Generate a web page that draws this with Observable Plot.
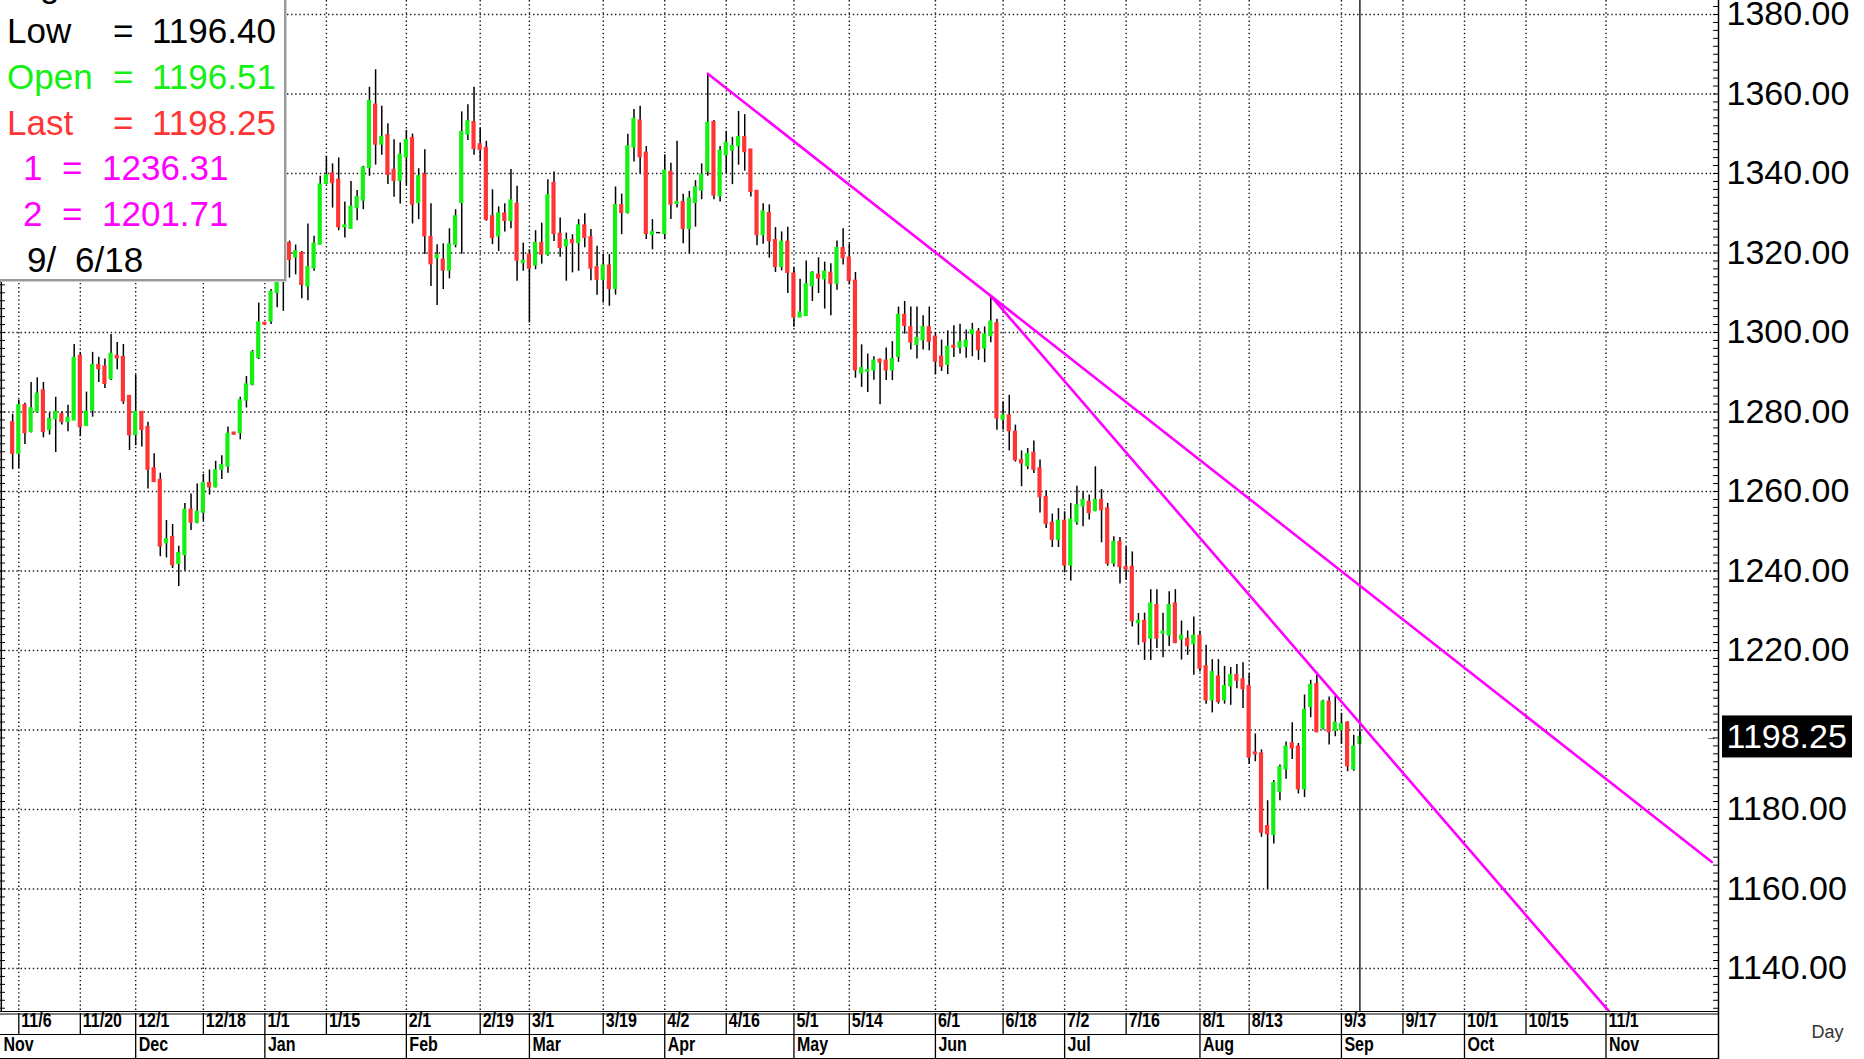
<!DOCTYPE html>
<html>
<head>
<meta charset="utf-8">
<script src="https://cdn.jsdelivr.net/npm/d3@7"></script>
<script src="https://cdn.jsdelivr.net/npm/@observablehq/plot@0.6"></script>
<style>
  html, body { margin: 0; padding: 0; background: #fff; overflow: hidden; }
  #wrap { position: relative; width: 1864px; height: 1059px; overflow: hidden; }
  #legendBox { position: absolute; left: 0; top: -50px; width: 284px; height: 329px; background: #fff;
    border-right: 2px solid #9a9a9a; border-bottom: 2px solid #9a9a9a; box-shadow: 1px 1px 0 #cfcfcf; }
  .lg { position: absolute; font-family: "Liberation Sans", Arial, sans-serif; font-size: 35px; line-height: 35px; white-space: pre; }
</style>
</head>
<body>
<div id="wrap"><div id="chart"></div></div>
<script>
// ---------- data (daily gold futures candles, weekday index: 0 = 2017-11-06) ----------
const firstIndex = -1; // first candle: 2017-11-03
const opens = [
1277.4,1269.5,1281.7,1275.0,1280.0,1285.4,1275.5,1278.2,1279.4,1277.5,1277.9,1294.1,1276.5,1280.4,1291.8,1291.4,1288.3,1294.1,1293.8,1284.0,
1274.2,1280.0,1276.2,1265.8,1262.9,1247.0,1248.5,1241.8,1244.0,1255.4,1252.2,1254.7,1262.1,1261.1,1265.5,1266.3,1274.8,1274.7,1282.9,1286.9,
1293.6,1302.4,1302.8,1310.0,1313.0,1322.5,1318.9,1320.0,1311.6,1316.2,1322.1,1337.4,1340.0,1338.4,1326.5,1326.1,1331.3,1333.2,1341.4,1357.3,
1347.3,1349.6,1340.9,1338.2,1344.1,1348.9,1332.6,1339.7,1324.0,1318.7,1318.3,1315.6,1322.1,1332.6,1349.8,1352.9,1347.3,1346.4,1329.2,1324.2,
1329.9,1328.1,1332.4,1317.5,1319.6,1316.9,1322.5,1319.6,1337.6,1324.8,1321.7,1323.2,1322.5,1326.9,1323.9,1316.4,1313.3,1316.8,1311.0,1332.0,
1330.1,1346.6,1353.3,1345.2,1324.6,1325.0,1324.8,1340.4,1332.4,1332.8,1326.1,1332.6,1335.7,1340.5,1352.9,1334.3,1344.6,1345.8,1346.9,1349.1,
1346.0,1335.6,1324.5,1330.0,1323.2,1316.5,1322.8,1314.8,1303.8,1304.2,1311.7,1314.5,1313.4,1315.0,1312.3,1321.2,1318.8,1313.0,1289.7,1290.2,
1290.5,1293.1,1292.9,1290.5,1293.9,1304.4,1301.3,1296.9,1298.1,1301.3,1298.9,1293.9,1291.9,1296.6,1296.2,1296.4,1299.6,1300.2,1296.0,1299.1,
1302.3,1278.1,1279.1,1275.0,1267.9,1266.4,1269.7,1265.8,1258.6,1252.1,1247.9,1252.6,1241.4,1252.3,1256.3,1257.4,1255.1,1257.8,1255.7,1241.9,
1247.3,1241.0,1241.0,1226.9,1227.4,1223.0,1231.4,1224.3,1223.8,1231.8,1222.8,1222.9,1221.6,1223.7,1216.0,1207.5,1213.4,1207.5,1211.0,1213.8,
1212.7,1211.0,1194.3,1194.1,1175.8,1173.6,1184.5,1190.1,1196.6,1195.8,1185.1,1205.8,1211.5,1200.4,1207.1,1199.8,1200.0,1201.8,1190.1,1196.51
];
const highs = [
1279.4,1283.0,1282.2,1287.4,1288.6,1287.4,1279.7,1283.7,1280.0,1281.7,1297.0,1295.0,1285.0,1295.0,1293.8,1293.3,1299.5,1297.5,1297.0,1284.0,
1289.3,1280.0,1277.4,1269.5,1264.6,1252.7,1251.7,1246.2,1257.0,1259.4,1261.9,1264.3,1265.4,1267.6,1269.0,1276.2,1274.8,1283.7,1288.9,1295.5,
1307.4,1302.4,1310.8,1316.0,1323.0,1323.0,1322.0,1320.4,1327.3,1324.2,1339.3,1344.3,1342.4,1343.9,1332.8,1338.0,1335.7,1341.8,1361.7,1366.1,
1356.9,1352.5,1348.5,1347.7,1350.8,1349.9,1341.2,1346.0,1332.4,1322.1,1322.3,1326.1,1330.9,1355.5,1357.3,1361.7,1351.3,1348.1,1335.9,1331.6,
1332.4,1341.0,1336.8,1322.5,1320.8,1325.6,1327.5,1338.4,1340.4,1328.8,1325.0,1324.6,1328.4,1329.9,1325.9,1321.7,1319.6,1319.6,1336.6,1334.8,
1349.9,1356.1,1356.9,1346.8,1328.4,1325.0,1344.7,1342.6,1348.1,1334.8,1335.5,1338.2,1342.4,1365.1,1353.3,1346.8,1350.6,1349.1,1355.6,1354.8,
1346.0,1335.6,1332.4,1332.1,1326.4,1325.3,1326.5,1316.3,1313.4,1318.0,1315.3,1318.8,1317.7,1317.3,1323.0,1326.1,1322.3,1315.1,1296.9,1294.6,
1293.9,1293.3,1296.1,1297.7,1306.4,1307.8,1306.4,1306.4,1304.2,1306.4,1300.0,1298.1,1300.4,1301.7,1302.1,1300.6,1302.3,1301.0,1301.4,1309.2,
1303.3,1282.6,1284.2,1276.7,1270.2,1270.8,1272.7,1267.9,1260.2,1254.3,1255.7,1254.9,1257.0,1261.3,1259.9,1259.1,1266.2,1260.5,1257.0,1248.6,
1248.4,1246.1,1244.8,1229.3,1229.4,1235.3,1235.3,1229.4,1234.8,1235.3,1227.4,1224.9,1228.4,1224.9,1221.3,1217.7,1217.7,1216.0,1215.7,1216.5,
1216.9,1214.2,1199.0,1195.0,1182.2,1187.3,1191.2,1197.0,1201.8,1196.6,1208.8,1212.5,1213.8,1207.5,1208.3,1208.5,1204.2,1202.1,1198.7,1199.5
];
const lows = [
1265.5,1265.8,1271.8,1274.7,1279.7,1273.5,1274.2,1269.8,1276.7,1275.0,1277.9,1273.8,1276.5,1278.7,1287.4,1285.9,1287.9,1290.6,1281.9,1270.3,
1271.5,1271.2,1260.6,1262.3,1243.6,1243.3,1240.6,1236.1,1240.0,1250.2,1251.9,1252.5,1259.1,1260.9,1263.0,1264.6,1274.3,1273.0,1281.0,1286.6,
1293.2,1302.0,1302.0,1306.2,1305.3,1313.7,1314.5,1308.5,1308.0,1315.4,1322.1,1337.2,1331.3,1325.6,1323.8,1326.1,1328.1,1330.9,1339.3,1342.1,
1344.6,1337.2,1334.0,1332.3,1337.0,1327.3,1328.4,1319.6,1311.6,1306.8,1310.8,1313.5,1321.3,1319.7,1348.3,1344.6,1343.1,1328.0,1322.1,1320.4,
1325.3,1326.1,1312.9,1315.4,1302.4,1315.8,1317.2,1319.2,1322.9,1318.9,1312.9,1315.0,1315.4,1321.3,1313.0,1309.4,1307.4,1306.6,1309.4,1324.6,
1329.8,1342.9,1339.9,1323.4,1320.8,1325.0,1323.4,1328.4,1331.3,1322.3,1319.7,1326.5,1333.4,1339.3,1333.4,1332.8,1339.9,1337.2,1342.1,1340.6,
1334.1,1321.8,1322.2,1318.7,1315.1,1315.5,1309.8,1301.3,1303.8,1304.2,1307.8,1309.8,1305.9,1304.2,1310.6,1317.0,1312.0,1288.5,1286.2,1284.9,
1288.0,1281.8,1287.9,1287.9,1292.5,1299.6,1295.6,1293.3,1295.6,1295.4,1289.4,1290.2,1289.4,1293.7,1294.6,1293.5,1293.9,1293.0,1292.4,1297.4,
1275.4,1275.4,1270.2,1267.4,1261.2,1265.5,1264.5,1254.6,1250.7,1245.9,1245.9,1239.5,1237.5,1251.5,1251.1,1252.8,1254.9,1247.1,1241.2,1241.0,
1236.7,1237.7,1225.9,1221.3,1217.5,1217.5,1220.5,1218.2,1221.0,1221.7,1217.6,1218.8,1213.8,1214.6,1206.5,1204.3,1206.5,1206.5,1206.2,1210.4,
1205.4,1191.4,1192.0,1173.0,1159.9,1171.3,1182.2,1187.6,1192.6,1183.9,1183.0,1203.1,1199.3,1200.0,1196.2,1198.3,1196.4,1189.5,1189.6,1196.40
];
const closes = [
1269.5,1281.7,1274.7,1280.9,1284.6,1275.0,1278.2,1280.0,1277.5,1278.5,1293.6,1276.2,1280.0,1291.8,1290.8,1287.1,1294.6,1293.5,1282.7,1274.2,
1280.0,1275.5,1265.5,1262.4,1246.2,1248.0,1241.5,1244.5,1255.4,1252.2,1254.9,1262.1,1261.1,1265.3,1266.6,1274.5,1274.3,1282.9,1286.9,1295.0,
1302.5,1302.0,1310.2,1313.0,1321.0,1318.3,1320.4,1312.0,1316.4,1322.3,1337.2,1339.5,1337.6,1326.5,1326.9,1331.6,1334.0,1341.4,1358.2,1347.3,
1349.2,1339.7,1338.2,1344.7,1348.4,1332.2,1339.3,1324.2,1317.2,1319.4,1315.6,1322.1,1329.2,1350.4,1353.1,1346.2,1346.0,1328.4,1323.8,1329.9,
1328.1,1333.2,1318.1,1318.0,1316.1,1322.5,1319.6,1334.5,1324.8,1321.3,1323.2,1322.5,1326.9,1323.8,1316.1,1313.3,1316.8,1311.0,1332.0,1330.1,
1346.8,1353.7,1344.1,1324.8,1325.2,1325.0,1340.7,1332.2,1332.8,1326.1,1333.7,1336.5,1339.7,1352.7,1334.5,1345.7,1347.7,1346.9,1349.1,1345.4,
1335.4,1324.5,1330.4,1323.0,1316.5,1322.8,1315.0,1303.8,1305.0,1312.1,1315.0,1313.6,1315.3,1312.3,1321.2,1318.7,1313.0,1290.5,1291.0,1290.5,
1292.9,1292.5,1290.5,1293.3,1304.4,1301.7,1297.5,1298.6,1301.3,1297.7,1292.7,1291.4,1296.4,1296.2,1297.5,1297.9,1300.6,1295.6,1299.5,1302.7,
1278.4,1279.1,1275.2,1267.9,1267.1,1269.4,1265.5,1258.6,1251.9,1247.9,1252.6,1241.4,1252.9,1256.5,1257.8,1254.6,1257.8,1255.3,1241.9,1247.3,
1241.0,1240.4,1227.4,1227.4,1222.1,1231.8,1223.0,1224.7,1231.4,1221.9,1223.7,1221.1,1223.7,1215.5,1207.5,1214.5,1207.1,1211.0,1213.8,1212.4,
1210.3,1193.1,1193.9,1174.2,1173.8,1186.6,1190.6,1195.8,1195.4,1185.1,1205.0,1211.3,1199.5,1207.1,1199.5,1201.8,1201.4,1190.9,1195.8,1198.25
];

// trend lines (weekday index, price)
const trend1Index = [112, 275.2];
const trend1Value = [1365.1, 1166.8];
const trend2Index = [158, 258.5];
const trend2Value = [1309.2, 1129.2];

// bottom axis labels
const dateTickIndex  = [0, 10, 19, 30, 40, 50, 63, 75, 83, 95, 105, 115, 126, 135, 149, 160, 170, 180, 192, 200, 215, 225, 235, 245, 258];
const dateTickLabels = ["11/6","11/20","12/1","12/18","1/1","1/15","2/1","2/19","3/1","3/19","4/2","4/16","5/1","5/14","6/1","6/18","7/2","7/16","8/1","8/13","9/3","9/17","10/1","10/15","11/1"];
const monthIndex  = [-2.975, 19, 40, 63, 83, 105, 126, 149, 170, 192, 215, 235, 258];
const monthLabels = ["Nov","Dec","Jan","Feb","Mar","Apr","May","Jun","Jul","Aug","Sep","Oct","Nov"];

// price axis
const gridPrices  = [1140,1160,1180,1200,1220,1240,1260,1280,1300,1320,1340,1360,1380];
const priceLabels = [1140,1160,1180,1220,1240,1260,1280,1300,1320,1340,1360,1380];

// ---------- chart ----------
const xMin = -2.975, xMax = 276.29;
const yMin = 1129.18, yMax = 1383.52;
const GREEN = "#14f014", RED = "#ff3434", MAGENTA = "#ff00ff";
const LABEL_INK = "#010101"; // ink used for the condensed date/month labels
const sans = "'Liberation Sans', Arial, sans-serif";

const candles = opens.map((o, k) => ({i: firstIndex + k, o, h: highs[k], l: lows[k], c: closes[k]}));
const last = candles[candles.length - 1];
const trend1 = trend1Index.map((i, k) => ({i, v: trend1Value[k]}));
const trend2 = trend2Index.map((i, k) => ({i, v: trend2Value[k]}));
const dateTicks = dateTickIndex.map((i, k) => ({i, label: dateTickLabels[k]}));
const months = monthIndex.map((i, k) => ({i, label: monthLabels[k]}));
const minorTicks = d3.range(1130, 1384, 2);
const dotted = {stroke: "#1a1a1a", strokeWidth: 1.4, strokeDasharray: "1.4,2.7"};

const chart = Plot.plot({
  width: 1864, height: 1059,
  marginTop: 0, marginLeft: 0, marginRight: 146, marginBottom: 48,
  x: {domain: [xMin, xMax], axis: null},
  y: {domain: [yMin, yMax], axis: null},
  style: {fontFamily: sans, background: "#fff", color: "#000", overflow: "visible"},
  marks: [
    Plot.ruleY(gridPrices, dotted),
    Plot.ruleX(dateTickIndex, dotted),
    Plot.ruleY(minorTicks, {x1: xMin, x2: xMin + 0.8, stroke: "#000", strokeWidth: 1}),
    Plot.ruleY(minorTicks, {x1: xMax - 0.8, x2: xMax, stroke: "#000", strokeWidth: 1}),
    Plot.ruleX(candles, {x: "i", y1: "l", y2: "h", stroke: "#000", strokeWidth: 1.5}),
    Plot.rect(candles, {
      x1: d => d.i - 0.34, x2: d => d.i + 0.34, y1: "o", y2: "c",
      fill: d => d.c > d.o ? GREEN : d.c < d.o ? RED : "#000",
      insetTop: -0.7, insetBottom: -0.7
    }),
    Plot.ruleX([last.i], {stroke: "#000", strokeWidth: 1.3}),
    Plot.line(trend1, {x: "i", y: "v", stroke: MAGENTA, strokeWidth: 2.6, clip: true}),
    Plot.line(trend2, {x: "i", y: "v", stroke: MAGENTA, strokeWidth: 2.6, clip: true}),
    // frame & bottom rows
    Plot.ruleX([xMin], {stroke: "#000", strokeWidth: 1.5, dx: 0.8}),
    Plot.ruleX([xMax], {stroke: "#000", strokeWidth: 1.5, insetBottom: -48}),
    Plot.ruleY([yMin], {stroke: "#000", strokeWidth: 1}),
    Plot.ruleY([yMin], {stroke: "#000", strokeWidth: 1, dy: 2.5}),
    Plot.ruleY([yMin], {stroke: "#000", strokeWidth: 1, dy: 23}),
    Plot.ruleY([yMin], {stroke: "#000", strokeWidth: 1, dy: 47}),
    Plot.ruleX(dateTickIndex, {stroke: "#000", strokeWidth: 1.3, insetTop: 1013, insetBottom: -23}),
    Plot.ruleX(monthIndex.slice(1), {stroke: "#000", strokeWidth: 1.3, insetTop: 1034, insetBottom: -47}),
    Plot.text(dateTicks, {x: "i", text: "label", frameAnchor: "bottom", dy: 15, dx: 2.5, textAnchor: "start", fontSize: 20, fontWeight: "bold", fontFamily: sans, fill: LABEL_INK}),
    Plot.text(months, {x: "i", text: "label", frameAnchor: "bottom", dy: 39, dx: 3, textAnchor: "start", fontSize: 20, fontWeight: "bold", fontFamily: sans, fill: LABEL_INK}),
    Plot.axisY(priceLabels, {anchor: "right", tickSize: 0, tickPadding: 8, tickFormat: d3.format(".2f"), fontSize: 34, fontFamily: sans, label: null}),
    Plot.rect([last.c], {x1: xMax, x2: xMax, y1: d => d, y2: d => d, insetLeft: 4, insetRight: -134, insetTop: -21, insetBottom: -21, fill: "#000"}),
    Plot.text([last.c], {x: xMax, y: d => d, text: d => d3.format(".2f")(d), dx: 8, textAnchor: "start", fill: "#fff", fontSize: 34, fontFamily: sans}),
    Plot.text([last.c], {x: xMax, y: d => d, text: () => "→", dx: -7, fontSize: 11, fill: "#000"}),
    Plot.text(["Day"], {frameAnchor: "bottom-right", text: d => d, dx: 125, dy: 26, fontSize: 18, fill: "#333", fontFamily: sans})
  ]
});
// condense the bottom-axis labels horizontally (narrow chart font)
d3.select(chart).selectAll(`g[fill="${LABEL_INK}"] text`).each(function() {
  const t = this.getAttribute("transform") || "";
  this.setAttribute("transform", t + " scale(0.8,1)");
});
document.getElementById("chart").appendChild(chart);

// ---------- data window (overlay legend) ----------
const wrap = document.getElementById("wrap");
const box = document.createElement("div");
box.id = "legendBox";
wrap.appendChild(box);
const fmt = d3.format(".2f");
const legendRows = [
  {base: -3.1, color: "#000", parts: [[7, "High"], [113, "="], [152, fmt(last.h)]]},
  {base: 42.7, color: "#000", parts: [[7, "Low"], [113, "="], [152, fmt(last.l)]]},
  {base: 88.5, color: GREEN, parts: [[7, "Open"], [113, "="], [152, fmt(last.o)]]},
  {base: 134.3, color: RED, parts: [[7, "Last"], [113, "="], [152, fmt(last.c)]]},
  {base: 180, color: MAGENTA, parts: [[23, "1"], [62, "="], [102, "1236.31"]]},
  {base: 226, color: MAGENTA, parts: [[23, "2"], [62, "="], [102, "1201.71"]]},
  {base: 271.7, color: "#000", parts: [[27, "9/"], [75, "6/18"]]}
];
for (const row of legendRows) {
  for (const [x, t] of row.parts) {
    const s = document.createElement("span");
    s.className = "lg";
    s.style.left = x + "px";
    s.style.top = (row.base - 29.6) + "px";
    s.style.color = row.color;
    s.textContent = t;
    wrap.appendChild(s);
  }
}
</script>
</body>
</html>
